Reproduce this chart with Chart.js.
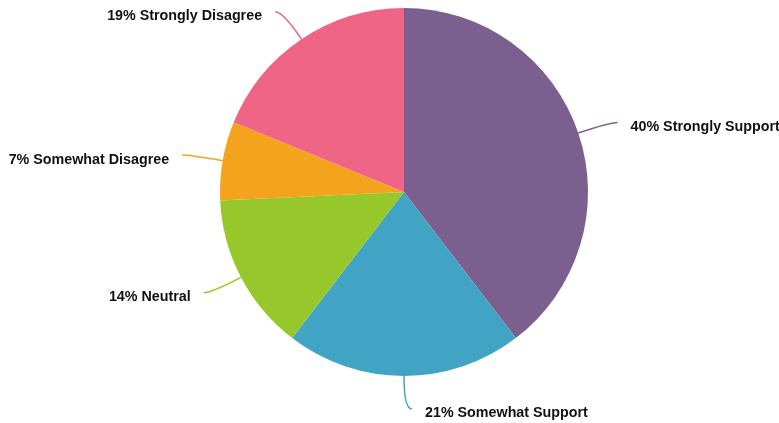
<!DOCTYPE html>
<html>
<head>
<meta charset="utf-8">
<script src="https://cdn.jsdelivr.net/npm/chart.js@4"></script>
<style>
  html, body { margin: 0; padding: 0; background: #fff; }
  #wrap { width: 779px; height: 423px; position: relative; }
</style>
</head>
<body>
<div id="wrap"><canvas id="support-pie"></canvas></div>
<script>
// survey answers, clockwise from 12 o'clock
const categories = ['Strongly Support', 'Somewhat Support', 'Neutral', 'Somewhat Disagree', 'Strongly Disagree'];
const percents = [40, 21, 14, 7, 19];
const colors = ['#7b5f8f', '#41a4c4', '#96c72b', '#f4a31d', '#ef6585'];

// leader lines + text outside each slice
const outsideLabels = {
    id: 'outsideLabels',
    afterDatasetsDraw(chart) {
        const ctx = chart.ctx;
        const meta = chart.getDatasetMeta(0);
        ctx.save();
        ctx.font = 'bold 14.3px "Liberation Sans", Arial, sans-serif';
        ctx.textBaseline = 'middle';
        meta.data.forEach((arc, i) => {
            const p = arc.getProps(['x', 'y', 'startAngle', 'endAngle', 'outerRadius'], true);
            const mid = (p.startAngle + p.endAngle) / 2;
            const cos = Math.cos(mid), sin = Math.sin(mid);
            const right = cos >= -1e-6;
            const r = p.outerRadius;
            const sx = p.x + cos * r, sy = p.y + sin * r;
            const cx = p.x + cos * (r + 33), cy = p.y + sin * (r + 33);
            const ex = cx + (right ? 8 : -8), ey = cy;

            ctx.strokeStyle = colors[i];
            ctx.lineWidth = 1.5;
            ctx.beginPath();
            ctx.moveTo(sx, sy);
            ctx.quadraticCurveTo(cx, cy, ex, ey);
            ctx.stroke();

            ctx.fillStyle = '#111';
            ctx.textAlign = right ? 'left' : 'right';
            ctx.fillText(percents[i] + '% ' + categories[i], ex + (right ? 13 : -13), ey + 4.5);
        });
        ctx.restore();
    }
};

new Chart(document.getElementById('support-pie'), {
    type: 'pie',
    data: {
        labels: categories,
        datasets: [{
            data: percents,
            backgroundColor: colors,
            borderWidth: 0
        }]
    },
    options: {
        responsive: true,
        maintainAspectRatio: false,
        animation: false,
        layout: { padding: { top: 8, bottom: 47, left: 220, right: 191 } },
        plugins: {
            legend: { display: false },
            tooltip: { enabled: false }
        }
    },
    plugins: [outsideLabels]
});
</script>
</body>
</html>
